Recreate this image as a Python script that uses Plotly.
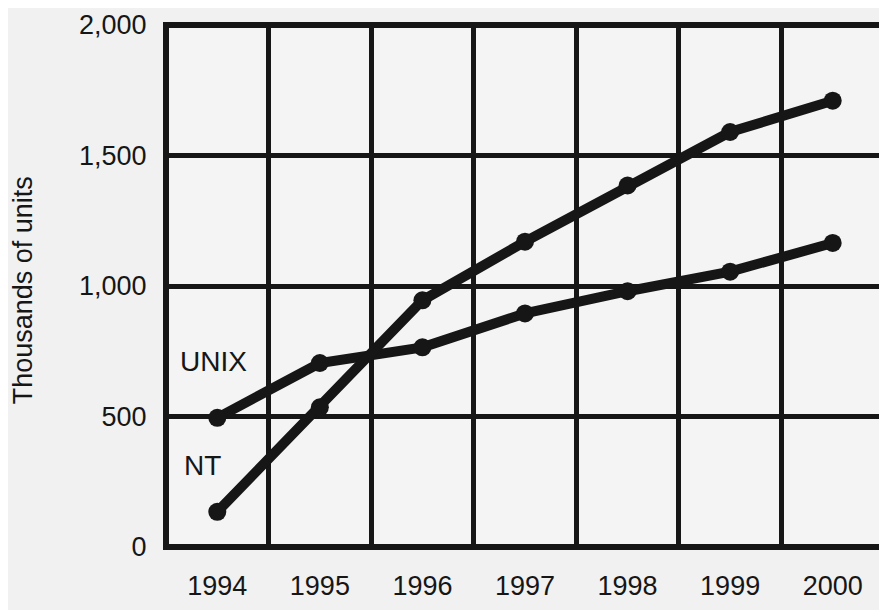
import plotly.graph_objects as go

years = [1994, 1995, 1996, 1997, 1998, 1999, 2000]
unix_units = [495, 705, 765, 895, 980, 1055, 1165]
nt_units = [135, 535, 945, 1170, 1385, 1590, 1710]
y_ticks = [0, 500, 1000, 1500, 2000]
y_tick_labels = ["0", "500", "1,000", "1,500", "2,000"]
x_grid = [1994.5, 1995.5, 1996.5, 1997.5, 1998.5, 1999.5]

ink = "#161616"
font = "Liberation Sans, Arial, sans-serif"

fig = go.Figure()
for name, vals in [("UNIX", unix_units), ("NT", nt_units)]:
    fig.add_trace(go.Scatter(
        x=years, y=vals, mode="lines+markers", name=name,
        line=dict(color=ink, width=10),
        marker=dict(color=ink, size=18, symbol="circle"),
        showlegend=False,
    ))

fig.add_annotation(x=1993.96, y=709, text="UNIX", showarrow=False,
                   font=dict(family=font, size=28, color=ink))
fig.add_annotation(x=1993.86, y=314, text="NT", showarrow=False,
                   font=dict(family=font, size=28, color=ink))
fig.add_annotation(x=-0.199, y=0.492, xref="paper", yref="paper",
                   xanchor="center", yanchor="middle",
                   text="Thousands of units", textangle=-90, showarrow=False,
                   font=dict(family=font, size=27, color=ink))

fig.add_shape(type="rect", xref="x domain", yref="y domain",
              x0=0, x1=1, y0=0, y1=1, line=dict(color=ink, width=6),
              layer="above")

fig.update_layout(
    width=879, height=602,
    margin=dict(l=158, r=3, t=17, b=63),
    paper_bgcolor="#f1f1f1",
    plot_bgcolor="#f4f4f4",
    font=dict(family=font, size=28, color=ink),
    xaxis=dict(
        range=[1993.5, 2000.5], automargin=False,
        tickmode="array", tickvals=years, ticktext=[str(y) for y in years],
        showgrid=False, zeroline=False, showline=False,
        ticks="outside", ticklen=15, tickcolor="rgba(0,0,0,0)",
        tickfont=dict(family=font, size=27, color=ink),
        minor=dict(tickmode="array", tickvals=x_grid, showgrid=True,
                   gridcolor=ink, gridwidth=5, ticks=""),
    ),
    yaxis=dict(
        range=[0, 2000], automargin=False,
        tickmode="array", tickvals=y_ticks, ticktext=y_tick_labels,
        showgrid=True, gridcolor=ink, gridwidth=5,
        zeroline=False, showline=False,
        ticks="outside", ticklen=13, tickcolor="rgba(0,0,0,0)",
        tickfont=dict(family=font, size=27, color=ink),
    ),
)

fig.write_html("out.html")
